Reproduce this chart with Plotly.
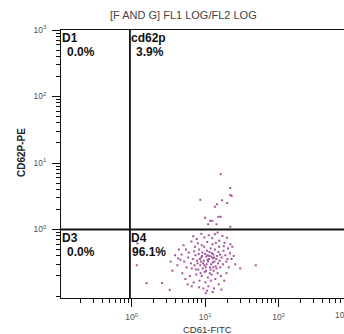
import math
import plotly.graph_objects as go

# ---- data ----
title_text = "[F AND G] FL1 LOG/FL2 LOG"
x_title = "CD61-FITC"
y_title = "CD62P-PE"
tick_vals = [1, 10, 100, 1000]
tick_text = ["10<sup>0</sup>", "10<sup>1</sup>", "10<sup>2</sup>", "10<sup>3</sup>"]
quad_x = 0.95
quad_y = 1.0
quad_names = ["D1", "cd62p", "D3", "D4"]
quad_pcts = ["0.0%", "3.9%", "0.0%", "96.1%"]

# events (CD61-FITC, CD62P-PE), linear units
ev_x = [
    8.6, 9.4, 10.2, 11.0, 12.1, 7.8, 8.9, 10.8, 12.8, 13.9, 9.9, 11.6, 8.1, 7.2, 6.8, 9.2, 10.6, 12.4, 14.6, 15.8,
    13.1, 10.9, 9.0, 7.6, 6.6, 11.9, 8.3, 9.7, 13.6, 15.2, 16.8, 17.5, 14.8, 12.0, 10.1, 8.4, 6.4, 7.4, 5.9, 11.3,
    9.6, 10.4, 12.7, 8.8, 11.7, 13.4, 9.3, 10.5, 7.9, 14.2, 16.1, 12.3, 8.7, 10.0, 11.5, 13.0, 7.1, 9.0, 12.6, 15.5,
    14.0, 10.7, 8.0, 17.8, 18.9, 19.5, 16.4, 13.8, 11.1, 9.5, 7.0, 6.2, 5.6, 5.2, 6.0, 10.3, 11.9, 9.8, 8.5, 12.9,
    15.0, 14.3, 7.5, 11.4, 13.3, 16.0, 9.1, 10.8, 12.2, 8.2,
    4.6, 4.2, 3.9, 4.9, 5.4, 4.4, 5.1, 6.5, 7.7, 9.8, 12.5, 15.6, 18.4, 20.5, 21.8, 22.9, 21.0, 19.6, 18.2, 15.3,
    13.2, 10.6, 8.3, 6.6, 5.8, 3.6, 3.4, 24.5, 25.8, 23.5, 17.2, 13.6, 11.2, 8.9, 6.9, 14.8, 19.8, 10.2, 12.7, 16.7,
    4.8, 5.5, 20.2, 22.1, 7.3, 18.0,
    16.3, 22.0, 22.0, 23.0, 8.6, 14.5, 13.6, 17.0, 10.0, 11.7, 15.2, 16.3, 11.0, 14.3, 22.0, 20.0, 12.5,
    49.0, 1.18, 1.6, 2.6, 3.3, 4.3, 30.0, 1.2,
]
ev_y = [
    0.29, 0.31, 0.27, 0.33, 0.30, 0.34, 0.38, 0.41, 0.37, 0.28, 0.23, 0.22, 0.25, 0.29, 0.36, 0.45, 0.48, 0.44, 0.40, 0.34,
    0.24, 0.19, 0.20, 0.21, 0.26, 0.52, 0.50, 0.55, 0.50, 0.46, 0.38, 0.30, 0.22, 0.17, 0.16, 0.17, 0.31, 0.41, 0.38, 0.36,
    0.34, 0.39, 0.32, 0.33, 0.27, 0.33, 0.26, 0.30, 0.31, 0.36, 0.27, 0.21, 0.22, 0.43, 0.46, 0.42, 0.47, 0.58, 0.60, 0.55,
    0.63, 0.65, 0.62, 0.48, 0.41, 0.33, 0.20, 0.18, 0.14, 0.13, 0.16, 0.20, 0.27, 0.33, 0.45, 0.24, 0.25, 0.29, 0.36, 0.27,
    0.31, 0.26, 0.25, 0.40, 0.38, 0.42, 0.40, 0.35, 0.39, 0.43,
    0.35, 0.29, 0.41, 0.22, 0.18, 0.50, 0.58, 0.66, 0.72, 0.76, 0.74, 0.68, 0.63, 0.52, 0.44, 0.36, 0.27, 0.22, 0.17, 0.15,
    0.13, 0.12, 0.135, 0.14, 0.15, 0.24, 0.33, 0.40, 0.30, 0.55, 0.80, 0.85, 0.82, 0.86, 0.79, 0.90, 0.75, 0.11, 0.115, 0.125,
    0.42, 0.50, 0.36, 0.60, 0.55, 0.56,
    6.8, 4.2, 3.3, 3.2, 2.8, 2.4, 2.2, 2.75, 1.5, 1.35, 1.55, 1.55, 1.2, 1.2, 1.1, 2.5, 1.35,
    0.29, 0.29, 0.156, 0.157, 0.124, 0.37, 0.26, 0.62,
]

XR = [-0.96, 2.89]
YR = [-1.03, 3.0]
ML, MR, MT, MB = 61, 0, 30, 36
W, H = 344, 334
PW, PH = W - ML - MR, H - MT - MB


def px_to_paper(px, py):
    return (px - ML) / PW, (H - MB - py) / PH


FONT = "Liberation Sans, Arial"

fig = go.Figure()
fig.add_trace(go.Scatter(
    x=ev_x, y=ev_y, mode="markers",
    marker=dict(symbol="square", size=2, color="#8e2a84", opacity=0.8, line=dict(width=0)),
    showlegend=False, hoverinfo="skip",
))

# quadrant lines
fig.add_shape(type="line", xref="x", yref="paper", x0=quad_x, x1=quad_x, y0=0, y1=1,
              line=dict(color="#111", width=1.8))
fig.add_shape(type="line", xref="paper", yref="y", x0=0, x1=1, y0=quad_y, y1=quad_y,
              line=dict(color="#111", width=1.8))

lab_font = dict(family=FONT, size=12, color="#111")
corners = [(XR[0], YR[1]), (math.log10(quad_x), YR[1]), (XR[0], math.log10(quad_y)),
           (math.log10(quad_x), math.log10(quad_y))]
for (lx, ly), nm, pc in zip(corners, quad_names, quad_pcts):
    fig.add_annotation(x=lx, y=ly, xref="x", yref="y", text="<b>%s</b>" % nm, showarrow=False,
                       xanchor="left", yanchor="top", xshift=-1, yshift=1, font=lab_font)
    fig.add_annotation(x=lx, y=ly, xref="x", yref="y", text="<b>%s</b>" % pc, showarrow=False,
                       xanchor="left", yanchor="top", xshift=4 if nm != "D4" else 0, yshift=-13, font=lab_font)


def paper_text(px, py, text, font, angle=0):
    ax, ay = px_to_paper(px, py)
    fig.add_annotation(x=ax, y=ay, xref="paper", yref="paper", text=text, showarrow=False,
                       xanchor="center", yanchor="middle", textangle=angle, font=font)


paper_text(183, 15, title_text, dict(family=FONT, size=11, color="#444"))
paper_text(207, 329, x_title, dict(family=FONT, size=9.5, color="#333"))
paper_text(21, 153, "<b>%s</b>" % y_title, dict(family=FONT, size=10, color="#222"), angle=-90)
# the 10^3 label of the x axis sits at the right edge of the view
paper_text(341, 314, tick_text[3], dict(family=FONT, size=8.5, color="#555"))

axis_common = dict(
    type="log", showgrid=False, zeroline=False, showline=True, linecolor="#111", linewidth=1.2,
    ticks="outside", ticklen=8, tickcolor="#111", tickwidth=1,
    tickvals=tick_vals, ticktext=tick_text, automargin=False,
    tickfont=dict(family=FONT, size=8.5, color="#555"),
    minor=dict(ticks="outside", ticklen=4, tickcolor="#111", tickwidth=1, dtick="D1", showgrid=False),
)

fig.update_layout(
    width=W, height=H,
    margin=dict(l=ML, r=MR, t=MT, b=MB),
    paper_bgcolor="white", plot_bgcolor="white",
    xaxis=dict(axis_common, range=XR, mirror=True, ticklabelstandoff=3),
    yaxis=dict(axis_common, range=YR, ticklabelstandoff=4),
)
fig.write_html("out.html", config={"displayModeBar": False},
               post_script="document.body.style.margin='0';document.body.style.overflow='hidden';")
